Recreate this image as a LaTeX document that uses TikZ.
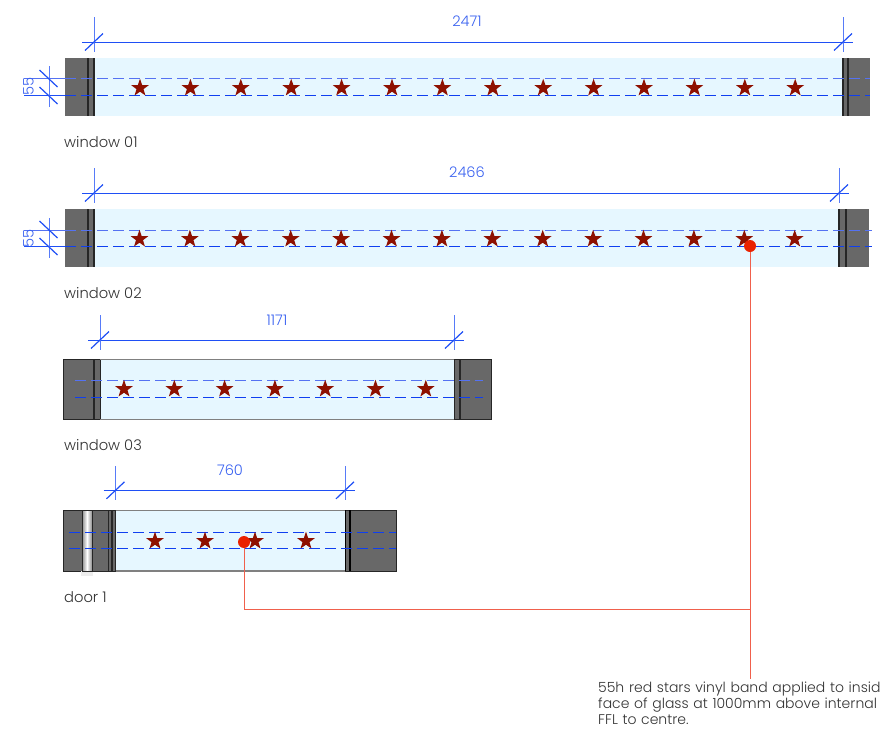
\documentclass[tikz,border=0pt]{standalone}
\usepackage{fontspec}
\setmainfont{Poppins}[UprightFont=* Light]
\usetikzlibrary{shapes.geometric}
\definecolor{glass}{HTML}{E6F7FF}
\definecolor{wallc}{HTML}{686868}
\definecolor{dimc}{HTML}{1F4FF5}
\definecolor{dimtxt}{HTML}{3A62F0}
\definecolor{dashA}{HTML}{5572F2}
\definecolor{dashB}{HTML}{0F3FF0}
\definecolor{starc}{HTML}{8E1000}
\definecolor{leader}{HTML}{F0604C}
\definecolor{dotc}{HTML}{EA2200}
\definecolor{txtc}{HTML}{333333}
\tikzset{
  x=1pt,y=-1pt,
  glasspane/.style={fill=glass,draw=none},
  wallblock/.style={fill=wallc,draw=none},
  wallline/.style={draw=black!85,line width=1.2pt},
  outl/.style={draw=black!85,line width=0.8pt},
  band/.style={line width=1pt,dash pattern=on 10.5pt off 5.5pt},
  dimline/.style={draw=dimc,line width=0.95pt},
  dimext/.style={draw=dimc!75,line width=1pt},
  slash/.style={draw=dimc,line width=1.2pt},
  dimlabel/.style={text=dimtxt,font=\fontsize{14.6}{16}\selectfont,inner sep=0pt},
  caption/.style={text=txtc,font=\fontsize{14.7}{16}\selectfont,inner sep=0pt,anchor=west},
  vstar/.style={star,star points=5,star point ratio=2.5,fill=starc,draw=none,inner sep=0pt,minimum size=18.5pt},
  reddot/.style={circle,fill=dotc,draw=none,inner sep=0pt,minimum size=12pt},
  leaderline/.style={draw=leader,line width=1pt},
}
\newcommand{\dimbar}[4]{% xL xR y top
  \draw[dimline] (#1-12,#3)--(#2+10,#3);
  \draw[dimext] (#1,#4)--(#1,#3+10);
  \draw[dimext] (#2,#4)--(#2,#3+10);
  \draw[slash] (#1-9,#3+8.5)--(#1+9,#3-8.5);
  \draw[slash] (#2-9,#3+8.5)--(#2+9,#3-8.5);
}
\begin{document}
\begin{tikzpicture}
\useasboundingbox (0,0) rectangle (880,734);
\clip (0,0) rectangle (880,734);
% window 01
\fill[glasspane] (94,58) rectangle (843,116);
\fill[wallblock] (65,58) rectangle (94,116);
\fill[wallblock] (843,58) rectangle (870,116);
\draw[wallline] (88,58)--(88,116) (94,58)--(94,116) (843,58)--(843,116) (848,58)--(848,116);
\draw[band,dashA] (65,78.5)--(870,78.5);
\draw[band,dashB] (65,95)--(870,95);
\foreach \i in {0,...,13} \node[vstar] (s1\i) at (140+50.4*\i,88) {};
\dimbar{94}{843}{42}{17}
\node[dimlabel] (d1) at (467,21) {2471};
\draw[draw=dashA,line width=0.9pt] (24,78.5)--(65,78.5);
\draw[dimline] (24,95)--(65,95);
\draw[dimext] (49,66)--(49,107);
\draw[slash] (39.5,70)--(57.5,87) (39.5,87)--(57.5,104);
\node[dimlabel,rotate=90] (d1b) at (28.5,86.8) {55};
\node[caption] (c1) at (64,142) {window 01};
% window 02
\fill[glasspane] (94,209) rectangle (839,267);
\fill[wallblock] (65,209) rectangle (94,267);
\fill[wallblock] (839,209) rectangle (869,267);
\draw[wallline] (88,209)--(88,267) (94,209)--(94,267) (839,209)--(839,267) (846,209)--(846,267);
\draw[band,dashA] (65,230)--(872,230);
\draw[band,dashB] (65,246)--(872,246);
\foreach \i in {0,...,13} \node[vstar] (s2\i) at (139.5+50.4*\i,239) {};
\dimbar{94}{839}{193}{168}
\node[dimlabel] (d2) at (467,172) {2466};
\draw[draw=dashA,line width=0.9pt] (24,230)--(65,230);
\draw[dimline] (24,246)--(65,246);
\draw[dimext] (49,218)--(49,258);
\draw[slash] (39.5,221)--(57.5,238) (39.5,238)--(57.5,255);
\node[dimlabel,rotate=90] (d2b) at (28.5,238.2) {55};
\node[caption] (c2) at (64,293) {window 02};
% window 03
\fill[glasspane] (100,359) rectangle (454,419.5);
\fill[wallblock] (63.5,359) rectangle (100,419.5);
\fill[wallblock] (454,359) rectangle (491,419.5);
\draw[outl] (63.5,359) rectangle (100,419.5) (454,359) rectangle (491,419.5);
\draw[wallline] (94,359)--(94,419.5) (460,359)--(460,419.5);
\draw[black!50,line width=0.7pt] (100,359)--(454,359);
\draw[black!50,line width=1.4pt] (100,419.5)--(454,419.5);
\draw[band,dashA] (75,380.5)--(483,380.5);
\draw[band,dashB] (75,397.5)--(483,397.5);
\foreach \i in {0,...,6} \node[vstar] (s3\i) at (124+50.3*\i,389) {};
\dimbar{100}{454}{340}{315}
\node[dimlabel] (d3) at (277,320) {1171};
\node[caption] (c3) at (64,445) {window 03};
% door 1
\fill[glasspane] (115.5,510) rectangle (345,571);
\fill[wallblock] (63.5,510) rectangle (115.5,571);
\fill[wallblock] (345,510) rectangle (396,571);
\draw[outl] (63.5,510) rectangle (115.5,571) (345,510) rectangle (396,571);
\fill[black!7] (81,571) rectangle (93,576);
\shade[left color=black!45,right color=black!45,middle color=white] (82,510.5) rectangle (92,571);
\draw[outl] (82,510.5) rectangle (92,571);
\draw[wallline] (108.5,510)--(108.5,571) (112,510)--(112,571) (115.5,510)--(115.5,571);
\draw[black,line width=1.4pt] (345.5,510)--(345.5,571) (350,510)--(350,571);
\draw[black!50,line width=0.7pt] (115.5,510)--(345,510);
\draw[black!50,line width=1.4pt] (115.5,571)--(345,571);
\draw[band,dashB] (69,532)--(396,532);
\draw[band,dashB] (69,548.5)--(396,548.5);
\foreach \x [count=\i] in {155,205,255,306} \node[vstar] (s4\i) at (\x,541) {};
\dimbar{115.5}{345}{490.3}{466}
\node[dimlabel] (d4) at (230,470) {760};
\node[caption] (c4) at (64,597) {door 1};
% leaders
\node[reddot] (dotA) at (750,246) {};
\node[reddot] (dotB) at (244,542) {};
\node[anchor=north west,inner sep=0pt,text=txtc,font=\fontsize{14}{16}\selectfont,align=left,text width=300pt] (note) at (598,682) {55h red stars vinyl band applied to inside\\face of glass at 1000mm above internal\\FFL to centre.};
\coordinate (noteTop) at (750,679);
\coordinate (elbow) at (244,609.5);
\coordinate (junction) at (750,609.5);
\draw[leaderline] (dotA)--(noteTop);
\draw[leaderline] (dotB)--(elbow)--(junction);
\end{tikzpicture}
\end{document}
